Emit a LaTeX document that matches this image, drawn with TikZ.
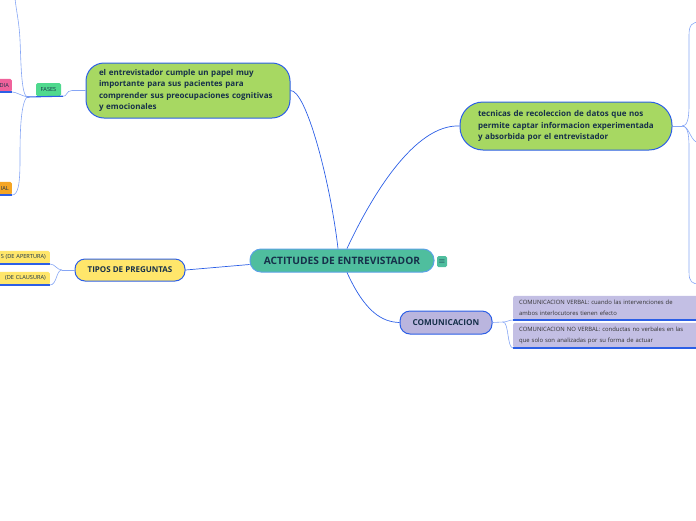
\documentclass[tikz,border=0pt]{standalone}
\usepackage{fontspec}
\setmainfont{Open Sans}
\definecolor{linkblue}{HTML}{2C5FE6}
\definecolor{sublinkblue}{HTML}{86A6F5}
\definecolor{ctrteal}{HTML}{4FBE9E}
\definecolor{ctrborder}{HTML}{5AA2E6}
\definecolor{topgreen}{HTML}{A7D862}
\definecolor{tipyellow}{HTML}{FFE66B}
\definecolor{comlav}{HTML}{BAB5DE}
\definecolor{sublav}{HTML}{C3BFE4}
\definecolor{fasegreen}{HTML}{4FD98E}
\definecolor{leafpink}{HTML}{F0629B}
\definecolor{leaforange}{HTML}{F5A524}
\definecolor{txtdark}{HTML}{16304A}
\tikzset{
  topic/.style={draw=linkblue, line width=1pt, text=txtdark, inner ysep=0pt},
  link/.style={draw=linkblue, line width=0.7pt},
  sublink/.style={draw=sublinkblue, line width=0.6pt},
  leaf/.style={rounded corners=1.5pt, inner ysep=0pt, minimum height=13pt, text=txtdark,
    font=\fontsize{5.6}{6}\selectfont},
  commsub/.style={rounded corners=2pt, fill=sublav, minimum width=202pt, text width=190pt,
    inner xsep=6pt, inner ysep=0pt, align=left, anchor=south west, text=black!80,
    font=\fontsize{5.9}{11}\selectfont},
  underl/.style={draw=linkblue, line width=1.1pt}
}
\begin{document}
\begin{tikzpicture}[x=1pt,y=-1pt]
  \useasboundingbox (0,0) rectangle (696,520);
  \clip (0,0) rectangle (696,520);

  %nodo centrale
  \node[topic, draw=ctrborder, fill=ctrteal, minimum width=184pt, minimum height=23pt,
    rounded corners=11pt, font=\fontsize{10.2}{12}\selectfont\bfseries] (ctr) at (342,260.5)
    {ACTITUDES DE ENTREVISTADOR};
  \node[fill=ctrteal, rounded corners=1.5pt, minimum width=10pt, minimum height=11pt,
    inner sep=0pt, text=txtdark, font=\fontsize{8}{8}\selectfont] (menu) at (442,261.5) {$\equiv$};

  %nodo verde a sinistra
  \node[topic, fill=topgreen, minimum width=204pt, minimum height=55pt, rounded corners=18pt,
    text width=178pt, inner xsep=13pt, align=left,
    font=\fontsize{8}{11.6}\selectfont\bfseries] (papel) at (188,90.5)
    {el entrevistador cumple un papel muy\\importante para sus pacientes para\\
     comprender sus preocupaciones cognitivas\\y emocionales};

  %nodo verde a destra
  \node[topic, fill=topgreen, minimum width=212pt, minimum height=48pt, rounded corners=23pt,
    text width=176pt, inner xsep=18pt, align=left,
    font=\fontsize{8}{11.6}\selectfont\bfseries] (tecn) at (566,126)
    {tecnicas de recoleccion de datos que nos\\permite captar informacion experimentada\\
     y absorbida por el entrevistador};

  %tipi di domande
  \node[topic, fill=tipyellow, minimum width=110pt, minimum height=22pt, rounded corners=10pt,
    font=\fontsize{8}{10}\selectfont\bfseries] (tipos) at (130,270) {TIPOS DE PREGUNTAS};
  \node[leaf, fill=tipyellow, text width=62pt, inner xsep=4pt, align=right, anchor=south east]
    (apert) at (50,264) {S (DE APERTURA)};
  \node[leaf, fill=tipyellow, text width=62pt, inner xsep=4pt, align=right, anchor=south east]
    (claus) at (50,285) {(DE CLAUSURA)};
  \draw[underl] (apert.south west) -- (apert.south east);
  \draw[underl] (claus.south west) -- (claus.south east);

  %comunicazione
  \node[topic, fill=comlav, minimum width=92pt, minimum height=23pt, rounded corners=10pt,
    font=\fontsize{8.2}{10}\selectfont\bfseries] (com) at (446,322.5) {COMUNICACION};
  \node[commsub, minimum height=24pt] (verbal) at (513,320)
    {COMUNICACION VERBAL: cuando las intervenciones de\\ambos interlocutores tienen efecto};
  \node[commsub, minimum height=25pt] (noverbal) at (513,348)
    {COMUNICACION NO VERBAL: conductas no verbales en las\\que solo son analizadas por su forma de actuar};
  \draw[underl] (verbal.south west) -- (verbal.south east);
  \draw[underl] (noverbal.south west) -- (noverbal.south east);

  %fasi e foglie a sinistra
  \node[leaf, fill=fasegreen, minimum width=25pt, inner xsep=2pt] (fases) at (48.5,89.5) {FASES};
  \node[leaf, fill=leafpink, text width=34pt, inner xsep=3pt, align=right, anchor=south east]
    (dia) at (12,92) {DIA};
  \node[leaf, fill=leaforange, text width=34pt, inner xsep=3pt, align=right, anchor=south east]
    (ial) at (12,195) {IAL};
  \coordinate (fj) at (27,97);
  \draw[underl] (fj) -- ([xshift=2pt]fases.south east);
  \draw[underl] (dia.south west) -- (dia.south east);
  \draw[underl] (ial.south west) -- (ial.south east);

  %punti di uscita
  \coordinate (upout) at (15,-2);
  \coordinate (rj) at (682,126);
  \coordinate (rtop) at (700,22);
  \coordinate (rmid) at (700,143);
  \coordinate (rbot) at (700,284);
  \coordinate (cj) at (503,322);
  \coordinate (tj) at (62,270);

  %connettori principali
  \draw[link] ([xshift=-4pt]ctr.north) .. controls (330,180) and (306,90) .. (papel.east);
  \draw[link] ([xshift=5pt]ctr.north) .. controls (372,195) and (415,124) .. (tecn.west);
  \draw[link] ([xshift=5pt]ctr.south) .. controls (365,312) and (382,322) .. (com.west);
  \draw[link] ([yshift=-4pt]ctr.west) -- (tipos.east);

  %connettori secondari
  \draw[sublink] (papel.west) -- (72,90.5) .. controls (66,90.5) and (67,97) .. ([xshift=2pt]fases.south east);
  \draw[sublink] (fj) .. controls (21,94) and (21,60) .. (20,40) .. controls (19,20) and (16,10) .. (upout);
  \draw[sublink] (fj) .. controls (20,95) and (16,92) .. (dia.south east);
  \draw[sublink] (fj) .. controls (20,104) and (20,140) .. (20,160) .. controls (20,185) and (18,195) .. (ial.south east);
  \draw[sublink] (tipos.west) -- (tj);
  \draw[sublink] (tj) .. controls (57,270) and (55,264) .. (apert.south east);
  \draw[sublink] (tj) .. controls (56,270) and (57,285) .. (claus.south east);
  \draw[sublink] (com.east) -- (cj);
  \draw[sublink] (cj) .. controls (508,322) and (508,320) .. (verbal.south west);
  \draw[sublink] (cj) .. controls (509,322) and (507,348) .. (noverbal.south west);
  \draw[sublink] (tecn.east) -- (rj);
  \draw[sublink] (rj) .. controls (687,126) and (689,120) .. (689,105) -- (689,35)
    .. controls (689,25) and (692,22) .. (rtop);
  \draw[sublink] (rj) .. controls (690,126) and (690,143) .. (rmid);
  \draw[sublink] (rj) .. controls (687,126) and (689,132) .. (689,147) -- (689,272)
    .. controls (689,282) and (692,284) .. (rbot);
\end{tikzpicture}
\end{document}
